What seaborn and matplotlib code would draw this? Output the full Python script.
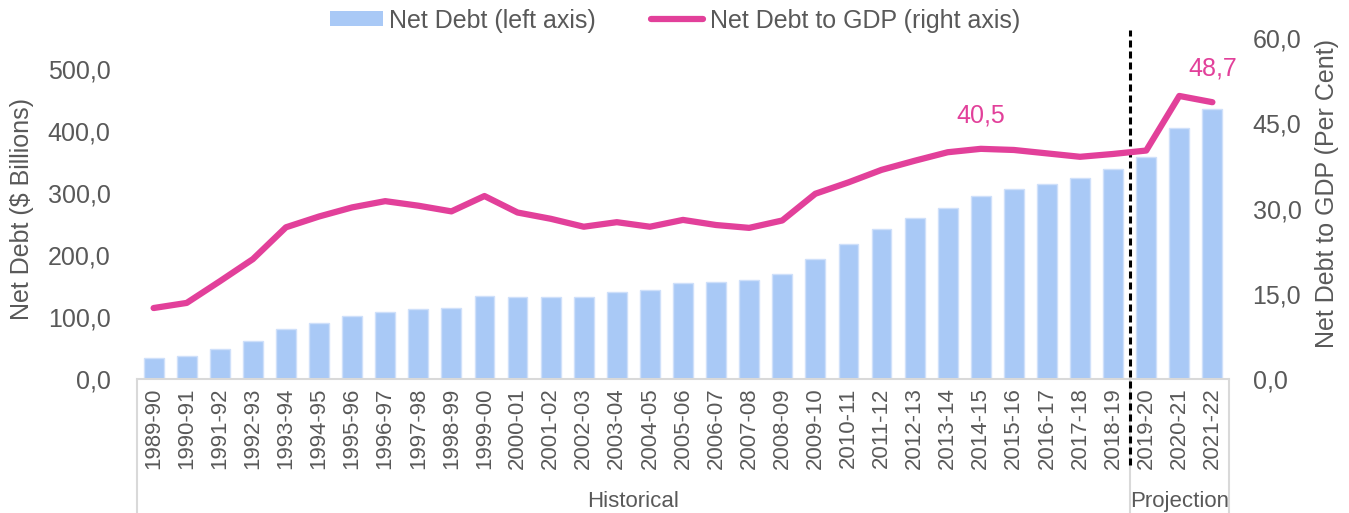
import numpy as np
import pandas as pd
import matplotlib
matplotlib.use("Agg")
import matplotlib.pyplot as plt
import seaborn as sns
from matplotlib.patches import Patch
from matplotlib.lines import Line2D
from matplotlib.ticker import FuncFormatter
import matplotlib.transforms as mtransforms

years = ["1989-90", "1990-91", "1991-92", "1992-93", "1993-94", "1994-95", "1995-96",
         "1996-97", "1997-98", "1998-99", "1999-00", "2000-01", "2001-02", "2002-03",
         "2003-04", "2004-05", "2005-06", "2006-07", "2007-08", "2008-09", "2009-10",
         "2010-11", "2011-12", "2012-13", "2013-14", "2014-15", "2015-16", "2016-17",
         "2017-18", "2018-19", "2019-20", "2020-21", "2021-22"]
net_debt = [34.4, 37.6, 48.4, 61.3, 80.1, 90.3, 101.6, 108.6, 112.4, 114.5, 133.9,
            132.3, 132.3, 132.3, 140.0, 143.0, 155.0, 156.5, 159.7, 169.4, 193.5,
            217.7, 242.0, 259.7, 276.3, 294.7, 306.5, 314.0, 323.7, 338.7, 357.6,
            404.4, 435.5]
debt_to_gdp = [12.5, 13.4, 17.2, 21.1, 26.7, 28.6, 30.2, 31.3, 30.5, 29.5, 32.2,
               29.3, 28.2, 26.8, 27.6, 26.8, 28.0, 27.1, 26.6, 27.9, 32.6, 34.6,
               36.8, 38.4, 39.9, 40.5, 40.3, 39.7, 39.1, 39.6, 40.2, 49.8, 48.7]
groups = ["Historical"] * 30 + ["Projection"] * 3
labelled_years = ["2014-15", "2021-22"]

bar_color = "#A9C9F6"
line_color = "#E2409A"
text_color = "#595959"
axis_color = "#D9D9D9"

sns.set_theme(style="white")
plt.rcParams["font.family"] = ["Liberation Sans", "DejaVu Sans"]

df = pd.DataFrame({"year": years, "debt": net_debt, "ratio": debt_to_gdp, "group": groups})
df["pos"] = np.arange(len(df))

fig = plt.figure(figsize=(13.49, 5.13), dpi=100)
ax = fig.add_axes([0.1016, 0.261, 0.8094, 0.665])

sns.barplot(data=df, x="year", y="debt", order=years, color=bar_color, width=0.6,
            edgecolor="#CFE0FA", linewidth=1.0, saturation=1, ax=ax)
ax.set_xlim(-0.5, len(years) - 0.5)
ax.set_ylim(0, 550)
ax.set_yticks(np.arange(0, 501, 100))
ax.yaxis.set_major_formatter(FuncFormatter(lambda v, p: f"{v:.1f}".replace(".", ",")))
ax.tick_params(axis="y", length=0, pad=19, labelsize=18, labelcolor=text_color)
ax.tick_params(axis="x", length=0, pad=6, labelsize=16, labelcolor=text_color, labelrotation=90)
ax.set_xlabel("")
ax.set_ylabel("Net Debt ($ Billions)", fontsize=18, color=text_color)
ax.yaxis.set_label_coords(-0.094, 0.5)
for s in ["top", "right", "left"]:
    ax.spines[s].set_visible(False)
ax.spines["bottom"].set_color(axis_color)
ax.spines["bottom"].set_linewidth(1.5)

ax2 = ax.twinx()
sns.lineplot(data=df, x="pos", y="ratio", color=line_color, linewidth=4.5, sort=False,
             ax=ax2, solid_capstyle="round")
ax2.set_ylim(0, 60)
ax2.set_yticks(np.arange(0, 61, 15))
ax2.yaxis.set_major_formatter(FuncFormatter(lambda v, p: f"{v:.1f}".replace(".", ",")))
ax2.tick_params(axis="y", length=0, pad=17, labelsize=18, labelcolor=text_color)
ax2.set_ylabel("Net Debt to GDP (Per Cent)", fontsize=18, color=text_color)
ax2.yaxis.set_label_coords(1.0788, 0.545)
for s in ["top", "right", "left", "bottom"]:
    ax2.spines[s].set_visible(False)
ax2.set_xlim(-0.5, len(years) - 0.5)

for yr in labelled_years:
    i = years.index(yr)
    v = debt_to_gdp[i]
    ax2.annotate(f"{v:.1f}".replace(".", ","), xy=(i, v), xytext=(0, 24),
                 textcoords="offset points", ha="center", va="center",
                 fontsize=18, color=line_color)

# multi-level category axis
trans = mtransforms.blended_transform_factory(ax.transData, ax.transAxes)
group_names = list(dict.fromkeys(groups))
bounds = []
start = 0
for g in group_names:
    n = groups.count(g)
    bounds.append((start - 0.5, start + n - 0.5, g))
    start += n
edges = sorted(set([b[0] for b in bounds] + [b[1] for b in bounds]))
for e in edges:
    ax.plot([e, e], [0, -0.40], transform=trans, color=axis_color, lw=1.5, clip_on=False)
for lo, hi, g in bounds:
    ax.text((lo + hi) / 2, -0.358, g, transform=trans, ha="center", va="center",
            fontsize=16, color=text_color)

# projection divider
div = groups.index("Projection") - 0.5
ax.plot([div, div], [-0.252, 1.023], transform=trans, color="black", lw=2.2,
        linestyle=(0, (2.3, 1.3)), clip_on=False, zorder=5)

handles = [Patch(facecolor=bar_color, edgecolor="none", label="Net Debt (left axis)"),
           Line2D([0], [0], color=line_color, lw=4.5, label="Net Debt to GDP (right axis)")]
fig.legend(handles=handles, loc="center", bbox_to_anchor=(0.5005, 0.960), ncol=2,
           frameon=False, fontsize=18, handlelength=2.1, handleheight=0.55,
           handletextpad=0.25, columnspacing=2.2, labelcolor=text_color,
           borderaxespad=0, borderpad=0)

fig.savefig("out.png", dpi=100)
